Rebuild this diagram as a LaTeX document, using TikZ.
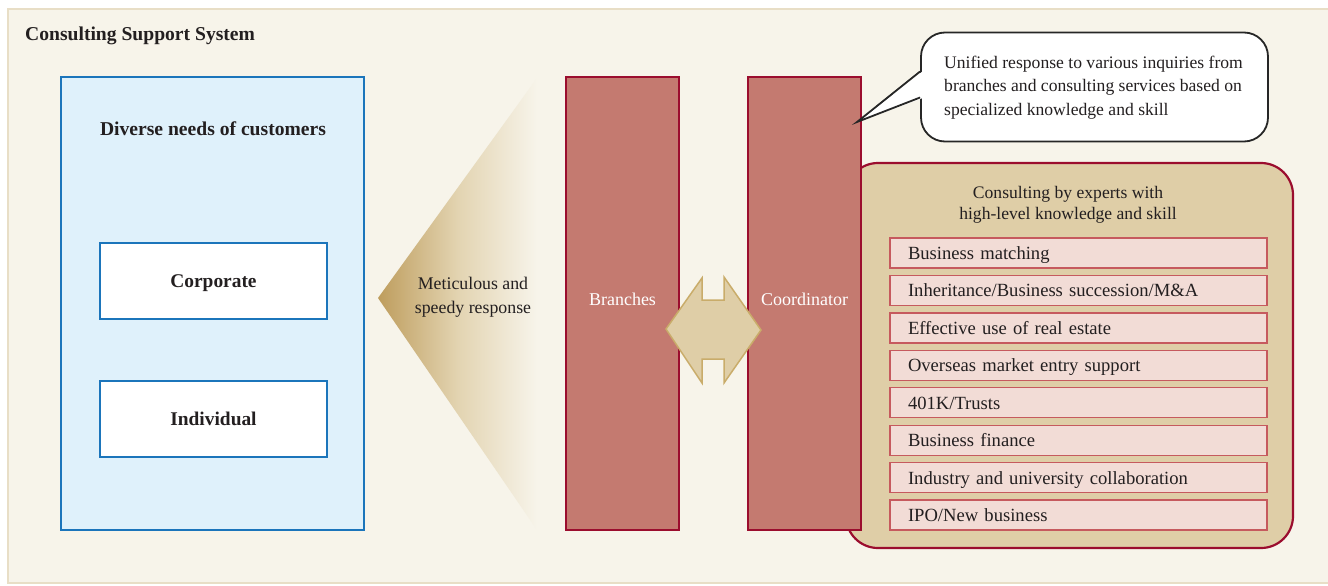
\documentclass[tikz,border=0pt]{standalone}
\usepackage{fontspec}
\setmainfont{Liberation Serif}
\definecolor{bg}{HTML}{F7F4EA}
\definecolor{frameline}{HTML}{E8DEC6}
\definecolor{txt}{HTML}{231F20}
\definecolor{blueline}{HTML}{1B75BB}
\definecolor{bluefill}{HTML}{DFF1FB}
\definecolor{barfill}{HTML}{C47A70}
\definecolor{barline}{HTML}{9B0D2E}
\definecolor{tanfill}{HTML}{DFCEA7}
\definecolor{tanline}{HTML}{C9AC6A}
\definecolor{gold}{HTML}{BE9D5D}
\definecolor{itemfill}{HTML}{F2DCD6}
\definecolor{itemline}{HTML}{C65A5E}
\tikzset{
  bluebox/.style={draw=blueline, line width=2pt, fill=white, minimum width=227pt, minimum height=76pt, font=\fontsize{19.4}{22}\selectfont\bfseries, text=txt, text height=16pt, text depth=3pt},
  barbox/.style={draw=barline, line width=2.2pt, fill=barfill, minimum width=113pt, minimum height=453pt, text=white, font=\fontsize{18}{21}\selectfont, inner sep=0pt, text height=9pt, text depth=5pt},
  itembox/.style={draw=itemline, line width=1.3pt, fill=itemfill, minimum width=377pt, minimum height=30pt, text width=341pt, inner xsep=18pt, inner ysep=0pt, align=left, text=txt, font=\fontsize{18.6}{21}\selectfont, text height=16pt, text depth=3pt},
}
\begin{document}
\begin{tikzpicture}[x=1pt,y=-1pt]
\useasboundingbox (0,0) rectangle (1328,586);
\fill[white] (0,0) rectangle (1328,586);
\draw[frameline, line width=2pt, fill=bg] (8,9) rectangle (1345,583);

\node[anchor=base west, inner sep=0pt, text=txt, font=\fontsize{19.6}{22}\selectfont\bfseries] (title) at (25,41) {Consulting Support System};

% customers panel
\node[draw=blueline, line width=2pt, fill=bluefill, minimum width=303pt, minimum height=453pt] (cust) at (212.5,303.5) {};
\node[text=txt, font=\fontsize{19.6}{22}\selectfont\bfseries] (custtitle) at (213,129) {Diverse needs of customers};
\node[bluebox] (corp) at (213.5,281) {Corporate};
\node[bluebox] (indiv) at (213.5,419) {Individual};

% gradient triangle
\shade[left color=gold, right color=bg, middle color=tanfill!85!bg] (378,298) -- (537,78) -- (537,530) -- cycle;
\node[align=center, text=txt, font=\fontsize{17.8}{24}\selectfont] (meticulous) at (473,297) {Meticulous and\\speedy response};

% consulting panel (behind coordinator)
\node[draw=barline, line width=2.2pt, fill=tanfill, rounded corners=32pt, minimum width=447pt, minimum height=385pt] (expert) at (1069.5,355.5) {};
\node[align=center, text=txt, font=\fontsize{17.6}{21.5}\selectfont] (experttitle) at (1068,205) {Consulting by experts with\\high-level knowledge and skill};

% bars
\node[barbox] (branches) at (622.5,303.5) {Branches};
\node[barbox] (coord) at (804.5,303.5) {Coordinator};

% double arrow shape
\draw[tanline, line width=1.5pt, fill=tanfill, line join=miter]
  (666,329) -- (702,278) -- (702,300) -- (724,300) -- (724,277) -- (761,330)
  -- (724,383) -- (724,359) -- (702,359) -- (702,383) -- cycle;

% items
\foreach \t [count=\i from 0] in {Business matching, Inheritance/Business succession/M\&A, Effective use of real estate, Overseas market entry support, 401K/Trusts, Business finance, Industry and university collaboration, IPO/New business}{
  \node[itembox] (item\i) at (1078.5, 253+37.43*\i) {\t};
}

% callout
\node[draw=black!85, line width=1.8pt, fill=white, rounded corners=24pt, minimum width=347pt, minimum height=109pt] (callout) at (1094.5,87) {};
\coordinate (tip) at (857,122);
\fill[white] (923,71) -- (tip) -- (923,98) -- cycle;
\draw[black!85, line width=1.8pt, line join=miter] (callout.west |- 0,71.5) -- (tip) -- (callout.west |- 0,97.5);
\node[anchor=north west, align=left, text=txt, font=\fontsize{17.6}{23.5}\selectfont, inner sep=0pt] (callouttext) at (944,55.5) {Unified response to various inquiries from\\branches and consulting services based on\\specialized knowledge and skill};
\end{tikzpicture}
\end{document}
